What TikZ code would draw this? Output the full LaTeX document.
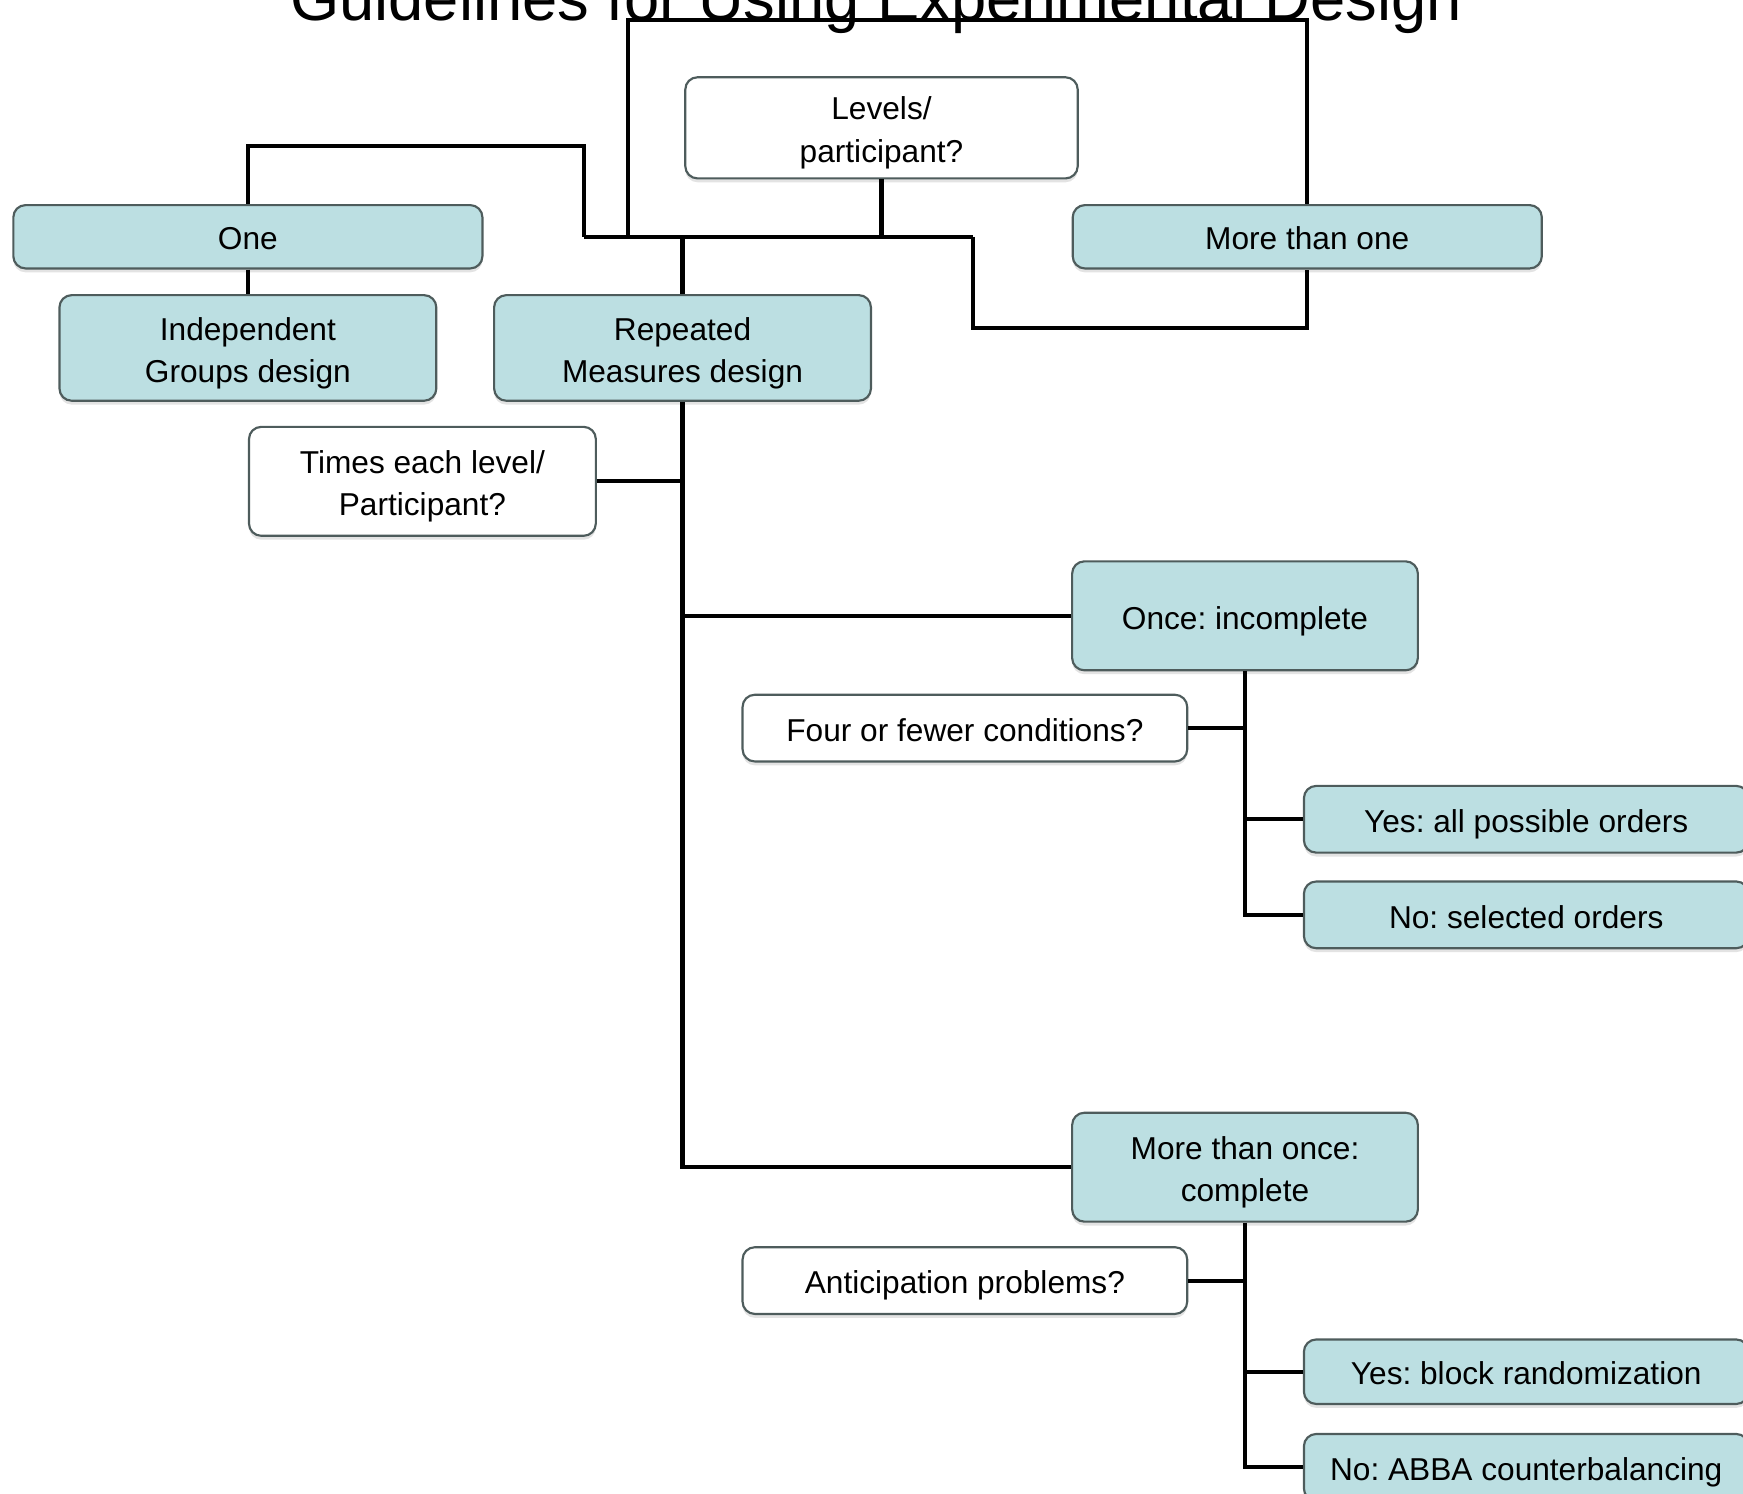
\documentclass[tikz,border=0pt]{standalone}
\usepackage{fontspec}
\setmainfont{Liberation Sans}
\usetikzlibrary{shadows}
\usepackage{xcolor}
\definecolor{boxteal}{HTML}{BCDFE2}
\definecolor{boxedge}{HTML}{4E5C5C}
\frenchspacing

\begin{document}
\begin{tikzpicture}[x=0.2mm, y=-0.2mm]
        % ================= styles =================
        \tikzset{
            % common box: rounded, grey-teal border, soft shadow below
            basebox/.style={draw=boxedge, line width=1.1pt, rounded corners=2.2mm, align=center, inner sep=0pt,
                font=\fontsize{16.2}{21.6}\selectfont, text height=13.5pt, text depth=0pt,
                drop shadow={shadow xshift=0mm, shadow yshift=-0.7mm, fill=black!22}},
            % two lines of text
            twoline/.style={text height=35.1pt},
            % question box: white
            qbox/.style={basebox, fill=white},
            % answer box: light teal
            abox/.style={basebox, fill=boxteal},
            % black connector
            link/.style={line width=2.1pt, black}
        }
        \useasboundingbox (0,0) rectangle (1568,1344);

        % ================= title (cut off at the top) =================
        \node[font=\fontsize{32.4}{40}\selectfont, anchor=base, inner sep=0pt] (title) at (788,18) {Guidelines for Using Experimental Design};

        % ================= top level =================
        \node[qbox, twoline, minimum width=70.6mm, minimum height=18.2mm] (levels) at (793,115) {Levels/\\participant?};
        \node[abox, minimum width=84.4mm, minimum height=11.4mm] (one) at (223,213) {One};
        \node[abox, minimum width=84.4mm, minimum height=11.4mm] (more) at (1176,213) {More than one};
        \node[abox, twoline, minimum width=67.8mm, minimum height=19mm] (indep) at (223,313) {Independent\\Groups design};
        \node[abox, twoline, minimum width=67.8mm, minimum height=19mm] (repeated) at (614,313) {Repeated\\Measures design};
        \node[qbox, twoline, minimum width=62.4mm, minimum height=19.6mm] (times) at (380,433) {Times each level/\\Participant?};

        % ================= once: incomplete =================
        \node[abox, minimum width=62.2mm, minimum height=19.6mm] (once) at (1120,554) {Once: incomplete};
        \node[qbox, minimum width=80mm, minimum height=12mm] (four) at (868,655) {Four or fewer conditions?};
        \node[abox, minimum width=80mm, minimum height=12mm] (yesall) at (1373,737) {Yes: all possible orders};
        \node[abox, minimum width=80mm, minimum height=12mm] (nosel) at (1373,823) {No: selected orders};

        % ================= more than once: complete =================
        \node[abox, twoline, minimum width=62.2mm, minimum height=19.6mm] (twice) at (1120,1050) {More than once:\\complete};
        \node[qbox, minimum width=80mm, minimum height=12mm] (antic) at (868,1152) {Anticipation problems?};
        \node[abox, minimum width=80mm, minimum height=11.6mm] (yesblock) at (1373,1234) {Yes: block randomization};
        \node[abox, minimum width=80mm, minimum height=12mm] (noabba) at (1373,1320) {No: ABBA counterbalancing};

        % ================= junction points =================
        \coordinate (jl) at (525,213);
        \coordinate (jr) at (875,213);
        \coordinate (jlu) at (525,131);
        \coordinate (jrd) at (875,295);
        \coordinate (jb) at (565,213);
        \coordinate (jt) at (565,18);

        % ================= connectors =================
        \draw[link] (jl) -- (jr);
        \draw[link] (levels.south) -- (levels.south |- jl);
        \draw[link] (jl) -- (jlu) -| (one.north);
        \draw[link] (jr) -- (jrd) -| (more.south);
        \draw[link] (jb) -- (jt) -| (more.north);
        \draw[link] (repeated.north |- jl) -- (repeated.north);
        \draw[link] (one.south) -- (indep.north);

        % trunk below repeated measures
        \draw[link] (repeated.south) |- (twice.west);
        \draw[link] (times.east) -- (times.east -| repeated.south);
        \draw[link] (once.west -| repeated.south) -- (once.west);

        % branches of the two answers
        \foreach \top/\q/\yes/\no in {once/four/yesall/nosel, twice/antic/yesblock/noabba} {
            \draw[link] (\top.south) |- (\no.west);
            \draw[link] (\q.east) -- (\q.east -| \top.south);
            \draw[link] (\yes.west -| \top.south) -- (\yes.west);
        }

    \end{tikzpicture}
\end{document}
